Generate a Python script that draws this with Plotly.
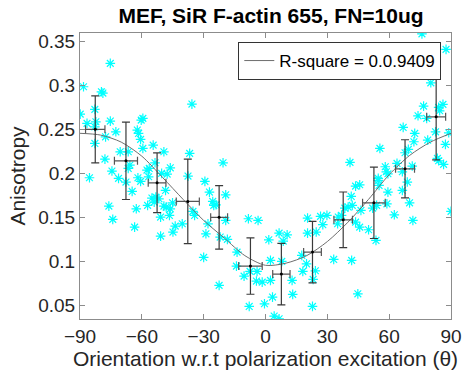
import plotly.graph_objects as go

# ---- raw measurements (orientation in degrees, anisotropy) ----
theta_pts = [-75.3, -88.3, -79.6, -78.9, -35.7, -82.8, -89.9, -86.6, -82.3, -82.8,
             -75.3, -60.3, -59.5, -72.6, -62.2, -61.6, -77.6, -60.6, -82.8, -54.5,
             -59.5, -70.5, -66.6, -49.3, -36.8, -77.9, -53.6, -65.8, -66.6, -74.5,
             -57.5, -56.4, -46.2, -50.4, -47.7, -85.4, -71.3, -61.9, -37.6, -56.7,
             -67.7, -60.6, -64.7, -76.0, -74.1, -62.7, -63.5, -57.2, -55.1, -54.0,
             -51.7, -53.2, -49.3, -48.2, -46.2, -45.1, -48.5, -50.9, -46.6, -43.8,
             -44.9, -40.4, -50.9, -35.2, -34.4, -30.0, -28.9, -29.4, -27.2, -25.6,
             -25.1, -24.0, -19.3, -27.9, -19.3, -22.0, -18.5, -13.8, -14.1, -8.3,
             -3.6, -10.4, -22.5, -7.5, -4.1, -4.4, -1.6, 2.4, -7.9, -0.5,
             3.4, 1.6, 2.4, 6.6, 10.5, 8.6, 7.9, 12.9, 13.2, 4.2,
             6.6, 18.1, 19.9, 17.6, 24.2, 23.1, 22.8, 20.4, 20.4, 24.6,
             26.7, 29.8, 27.8, 35.0, 35.3, 36.9, 38.5, 40.1, 42.1, 43.7,
             45.7, 41.6, 43.7, 45.7, 46.3, 50.0, 33.1, 41.8, 44.8, 54.7,
             55.1, 52.0, 53.9, 53.6, 59.4, 58.9, 59.4, 62.5, 66.4, 68.8,
             69.9, 71.5, 90.0, 75.9, 87.6, 79.3, 80.6, 80.2, 76.7, 84.0,
             86.1, 74.0, 78.2, 84.5, 66.8, 72.4, 82.5, 88.9, 78.7, 72.0,
             87.3, 55.5, 69.3, 67.7, 83.4, 84.0, 86.4, 41.0, 63.8, 58.1,
             58.6, 71.2, 66.4, 54.7, -20.6]
aniso_pts = [0.3255, 0.2989, 0.2932, 0.2917, 0.2792, 0.2732, 0.2678, 0.2573, 0.2591, 0.2534,
             0.2599, 0.2610, 0.2630, 0.2477, 0.2497, 0.2459, 0.2420, 0.2391, 0.2345, 0.2326,
             0.2289, 0.2250, 0.2250, 0.2250, 0.2232, 0.2167, 0.2125, 0.2099, 0.2061, 0.2031,
             0.2042, 0.2061, 0.2068, 0.2005, 0.1997, 0.1955, 0.1948, 0.1955, 0.1974, 0.1966,
             0.1906, 0.1914, 0.1800, 0.1633, 0.1482, 0.1602, 0.1394, 0.1641, 0.1724, 0.1678,
             0.1716, 0.1735, 0.1633, 0.1622, 0.1602, 0.1670, 0.1811, 0.1508, 0.1527, 0.1406,
             0.1338, 0.1432, 0.1292, 0.1573, 0.1527, 0.1050, 0.1318, 0.1914, 0.1792, 0.1686,
             0.1641, 0.1648, 0.1761, 0.1432, 0.1470, 0.1281, 0.1255, 0.1110, 0.0951, 0.1489,
             0.1470, 0.0837, 0.0732, 0.0891, 0.0891, 0.0781, 0.0769, 0.0789, 0.0493, 0.0523,
             0.0599, 0.1250, 0.1016, 0.1326, 0.1307, 0.1235, 0.1005, 0.0789, 0.0630, 0.0383,
             0.0352, 0.0891, 0.0977, 0.1073, 0.0898, 0.0800, 0.0493, 0.1497, 0.1326, 0.1338,
             0.1516, 0.1527, 0.1422, 0.1432, 0.1508, 0.1527, 0.1610, 0.1622, 0.1641, 0.1860,
             0.1875, 0.1743, 0.1451, 0.1394, 0.1584, 0.1364, 0.1027, 0.1016, 0.0636, 0.1925,
             0.1868, 0.1610, 0.1641, 0.1243, 0.1792, 0.1659, 0.2000, 0.1534, 0.1811, 0.1906,
             0.1670, 0.1470, 0.1573, 0.3590, 0.3414, 0.3122, 0.3148, 0.3034, 0.2769, 0.2755,
             0.2789, 0.2659, 0.2630, 0.2716, 0.2527, 0.2459, 0.2477, 0.2466, 0.2383, 0.2364,
             0.2334, 0.2289, 0.2277, 0.2239, 0.2175, 0.2148, 0.2107, 0.2130, 0.2118, 0.2080,
             0.2023, 0.2088, 0.2023, 0.1948, 0.2125]

# ---- binned means with errors ----
bin_theta = [-82.6, -67.7, -52.6, -37.7, -22.5, -7.3, 7.7, 22.8, 37.7, 52.6, 67.7, 82.8]
bin_theta_err = [4.7, 5.6, 4.3, 5.6, 4.1, 5.7, 4.2, 4.3, 4.5, 5.5, 4.6, 4.6]
bin_mean = [0.2505, 0.2148, 0.1898, 0.1686, 0.1505, 0.0951, 0.0860, 0.1110, 0.1477, 0.1670, 0.2057, 0.2648]
bin_err = [0.038, 0.044, 0.034, 0.048, 0.036, 0.032, 0.035, 0.035, 0.0316, 0.0405, 0.033, 0.049]

# ---- fitted curve ----
fit_theta = [-90, -80, -70, -60, -50, -40, -30, -20, -10, 0, 10, 20, 30, 40, 50, 60, 70, 80, 90]
fit_vals = [0.246, 0.244, 0.236, 0.220, 0.196, 0.171, 0.147, 0.127, 0.107, 0.096,
            0.0985, 0.107, 0.123, 0.145, 0.171, 0.199, 0.221, 0.236, 0.246]
fit_label = "R-square = 0.0.9409"

x_ticks = [-90, -60, -30, 0, 30, 60, 90]
y_ticks = [0.05, 0.1, 0.15, 0.2, 0.25, 0.3, 0.35]
y_tick_text = ["0.05", "0.1", "0.15", "0.2", "0.25", "0.3", "0.35"]

FONT = "Liberation Sans, Arial, sans-serif"

fig = go.Figure()
fig.add_trace(go.Scatter(
    x=theta_pts, y=aniso_pts, mode="markers", showlegend=False,
    marker=dict(symbol="asterisk-open", size=8, color="#00FFFF",
                line=dict(color="#00FFFF", width=1.2)),
    hoverinfo="skip"))
fig.add_trace(go.Scatter(
    x=fit_theta, y=fit_vals, mode="lines", name=fit_label,
    line=dict(color="#6e6e6e", width=1, shape="spline", smoothing=0.8)))
fig.add_trace(go.Scatter(
    x=bin_theta, y=bin_mean, mode="markers", showlegend=False,
    marker=dict(symbol="circle", size=3, color="black"),
    error_y=dict(type="data", array=bin_err, color="#3a3a3a", thickness=1.2, width=4),
    error_x=dict(type="data", array=bin_theta_err, color="#555555", thickness=1.2, width=4)))

axis_common = dict(showline=True, mirror="ticks", linecolor="#8c8c8c", linewidth=1,
                   ticks="inside", ticklen=5, tickcolor="#8c8c8c", showgrid=False,
                   zeroline=False, tickfont=dict(family=FONT, size=19, color="#262626"))

fig.update_layout(
    width=474, height=378,
    margin=dict(l=80, r=12, t=33, b=59),
    paper_bgcolor="white", plot_bgcolor="white",
    title=dict(text="<b>MEF, SiR F-actin 655, FN=10ug</b>", x=(80 + 191) / 474, xanchor="center",
               y=1 - 16 / 378, yanchor="middle",
               font=dict(family=FONT, size=21, color="black")),
    xaxis=dict(range=[-90, 90], tickvals=x_ticks,
               title=dict(text="Orientation w.r.t polarization excitation (θ)",
                          font=dict(family=FONT, size=21, color="#262626"), standoff=4),
               **axis_common),
    yaxis=dict(range=[0.035, 0.36], tickvals=y_ticks, ticktext=y_tick_text,
               title=dict(text="Anisotropy", font=dict(family=FONT, size=21, color="#262626"),
                          standoff=6),
               **axis_common),
    legend=dict(x=(452 - 80) / 382, y=1 - 9 / 286, xanchor="right", yanchor="top",
                bgcolor="white", bordercolor="#333333", borderwidth=1,
                font=dict(family=FONT, size=17, color="black"),
                tracegroupgap=0, itemwidth=30),
)

fig.write_html("out.html")
